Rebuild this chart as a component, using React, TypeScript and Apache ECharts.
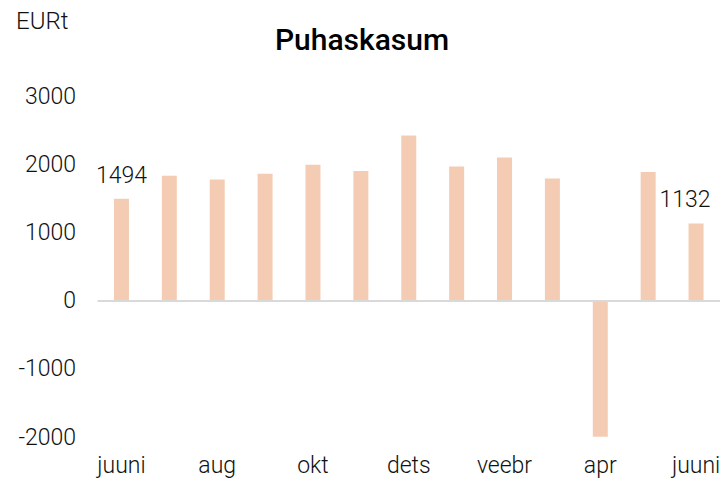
import React, { useEffect, useRef } from "react";
import * as echarts from "echarts";

const categories = ["juuni", "juuli", "aug", "sept", "okt", "nov", "dets", "jaan", "veebr", "märts", "apr", "mai", "juuni"];
const values = [1494, 1830, 1777, 1859, 1991, 1899, 2422, 1968, 2100, 1792, -1995, 1884, 1132];
const labelledIndexes = [0, 12];
const yTicks = { min: -2000, max: 3000, interval: 1000 };
const title = "Puhaskasum";
const unit = "EURt";

const FONT = "Roboto, 'Liberation Sans', sans-serif";

export default function App() {
  const ref = useRef<HTMLDivElement>(null);
  useEffect(() => {
    if (!ref.current) return;
    const chart = echarts.init(ref.current, undefined, { renderer: "svg" });
    const data = values.map((v, i) => {
      if (!labelledIndexes.includes(i)) return v;
      return {
        value: v,
        label: {
          show: true,
          position: "top",
          distance: 12,
          offset: i === values.length - 1 ? [-11, 0] : [0, 0],
          formatter: String(v),
          color: "#111",
          fontSize: 23,
          fontWeight: 300,
          fontFamily: FONT,
        },
      };
    });
    chart.setOption({
      animation: false,
      backgroundColor: "#fff",
      title: {
        text: title,
        left: "center",
        top: 19,
        textStyle: { fontSize: 30, fontWeight: 500, color: "#000", fontFamily: FONT },
      },
      graphic: [
        {
          type: "text",
          left: 16,
          top: 9,
          style: { text: unit, fontSize: 24, fontWeight: 300, fill: "#111", fontFamily: FONT },
        },
      ],
      grid: { left: 97.5, right: 4, top: 96, bottom: 45, containLabel: false },
      xAxis: {
        type: "category",
        data: categories,
        axisLine: { show: false, onZero: false },
        axisTick: { show: false },
        axisLabel: {
          interval: 1,
          margin: 17,
          fontSize: 23,
          fontWeight: 300,
          color: "#111",
          fontFamily: FONT,
        },
      },
      yAxis: {
        type: "value",
        min: yTicks.min,
        max: yTicks.max,
        interval: yTicks.interval,
        splitLine: { show: false },
        axisLine: { show: false },
        axisTick: { show: false },
        axisLabel: {
          margin: 21.5,
          fontSize: 23,
          fontWeight: 300,
          color: "#111",
          fontFamily: FONT,
          formatter: (v: number) => String(v),
        },
      },
      series: [
        {
          type: "bar",
          data,
          barWidth: 15,
          itemStyle: { color: "#F4CCB4" },
          markLine: {
            silent: true,
            symbol: "none",
            label: { show: false },
            lineStyle: { color: "#d9d9d9", width: 2, type: "solid" },
            data: [{ yAxis: 0 }],
          },
        },
      ],
    });
    return () => chart.dispose();
  }, []);
  return <div ref={ref} style={{ width: 724, height: 482, position: "absolute", left: 0, top: 0 }} />;
}
